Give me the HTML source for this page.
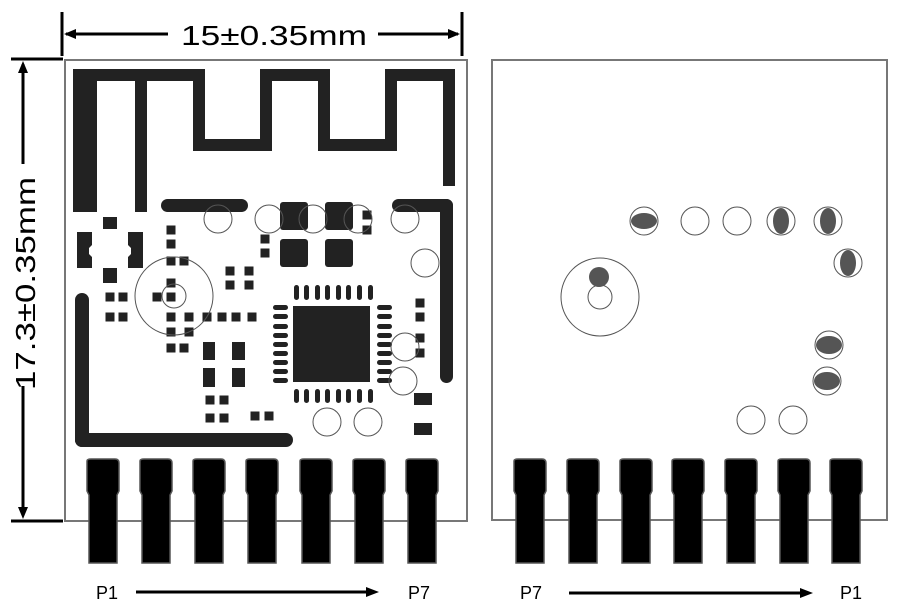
<!DOCTYPE html>
<html><head><meta charset="utf-8"><style>
html,body{margin:0;padding:0;background:#fff;width:905px;height:616px;overflow:hidden}
svg{display:block}
text{font-family:"Liberation Sans",sans-serif;fill:#000}
</style></head><body>
<svg width="905" height="616" viewBox="0 0 905 616" xmlns="http://www.w3.org/2000/svg">
<defs>
<g id="pin">
<path d="M-16,0 Q-16,-2 -12,-2 L12,-2 Q16,-2 16,2 L16,30 L14,34 L14,102 L-14,102 L-14,34 L-16,30 Z" fill="#000" stroke="#555" stroke-width="1.5"/>
</g>
<g id="sq"><rect x="-4.5" y="-4.5" width="9" height="9" fill="#222"/></g>
<g id="ci"><circle r="14" fill="none" stroke="#555" stroke-width="1"/></g>
</defs>

<!-- dimension top -->
<line x1="62" y1="12" x2="62" y2="56" stroke="#000" stroke-width="3"/>
<line x1="462" y1="12" x2="462" y2="56" stroke="#000" stroke-width="3"/>
<line x1="66" y1="34" x2="168" y2="34" stroke="#000" stroke-width="3"/>
<polygon points="64,34 76,29 76,39" fill="#000"/>
<line x1="378" y1="34" x2="458" y2="34" stroke="#000" stroke-width="3"/>
<polygon points="460,34 448,29 448,39" fill="#000"/>
<text x="181" y="45" font-size="28" textLength="186" lengthAdjust="spacingAndGlyphs">15±0.35mm</text>

<!-- dimension left -->
<line x1="11" y1="59" x2="63" y2="59" stroke="#000" stroke-width="3"/>
<line x1="11" y1="521" x2="63" y2="521" stroke="#000" stroke-width="3"/>
<line x1="23" y1="64" x2="23" y2="164" stroke="#000" stroke-width="3"/>
<polygon points="23,61 18,73 28,73" fill="#000"/>
<line x1="23" y1="386" x2="23" y2="515" stroke="#000" stroke-width="3"/>
<polygon points="23,519 18,507 28,507" fill="#000"/>
<text transform="translate(35,390) rotate(-90)" font-size="28" textLength="213" lengthAdjust="spacingAndGlyphs">17.3±0.35mm</text>

<!-- left board -->
<rect x="65" y="60" width="402" height="461" fill="#fff" stroke="#777" stroke-width="2"/>
<g fill="#222">
<rect x="73" y="69" width="24" height="143"/>
<rect x="73" y="69" width="132" height="12"/>
<rect x="135" y="69" width="12" height="143"/>
<rect x="193" y="69" width="12" height="82"/>
<rect x="193" y="139" width="79" height="12"/>
<rect x="260" y="69" width="12" height="82"/>
<rect x="260" y="69" width="70" height="12"/>
<rect x="318" y="69" width="12" height="82"/>
<rect x="318" y="139" width="79" height="12"/>
<rect x="385" y="69" width="12" height="82"/>
<rect x="385" y="69" width="70" height="12"/>
<rect x="443" y="69" width="12" height="117"/>
<rect x="161" y="199" width="87" height="13" rx="6.5"/>
<rect x="392" y="199" width="61" height="13" rx="6.5"/>
<rect x="440" y="199" width="13" height="184" rx="6.5"/>
<rect x="75" y="293" width="14" height="154" rx="7"/>
<rect x="75" y="433" width="218" height="14" rx="7"/>
<rect x="103" y="217" width="14" height="12"/>
<rect x="103" y="268" width="14" height="15"/>
<path d="M77,232 H92 V245 L89,248 V254 L92,257 V268 H77 Z"/>
<path d="M128,232 H143 V268 H128 V257 L131,254 V248 L128,245 Z"/>
<rect x="280" y="202" width="28" height="28" rx="3"/>
<rect x="325" y="202" width="28" height="28" rx="3"/>
<rect x="280" y="239" width="28" height="28" rx="3"/>
<rect x="325" y="239" width="28" height="28" rx="3"/>
<rect x="203" y="342" width="12" height="18"/>
<rect x="232" y="342" width="13" height="18"/>
<rect x="203" y="368" width="12" height="19"/>
<rect x="232" y="368" width="13" height="19"/>
<rect x="414" y="393" width="18" height="12"/>
<rect x="414" y="423" width="18" height="12"/>
<rect x="293" y="306" width="77" height="76"/>
<g>
<rect x="294" y="285" width="5" height="15" rx="2.5"/><rect x="304" y="285" width="5" height="15" rx="2.5"/><rect x="315" y="285" width="5" height="15" rx="2.5"/><rect x="325" y="285" width="5" height="15" rx="2.5"/><rect x="336" y="285" width="5" height="15" rx="2.5"/><rect x="346" y="285" width="5" height="15" rx="2.5"/><rect x="357" y="285" width="5" height="15" rx="2.5"/><rect x="368" y="285" width="5" height="15" rx="2.5"/>
<rect x="294" y="389" width="5" height="14" rx="2.5"/><rect x="304" y="389" width="5" height="14" rx="2.5"/><rect x="315" y="389" width="5" height="14" rx="2.5"/><rect x="325" y="389" width="5" height="14" rx="2.5"/><rect x="336" y="389" width="5" height="14" rx="2.5"/><rect x="346" y="389" width="5" height="14" rx="2.5"/><rect x="357" y="389" width="5" height="14" rx="2.5"/><rect x="368" y="389" width="5" height="14" rx="2.5"/>
<rect x="273" y="305" width="15" height="5" rx="2.5"/><rect x="273" y="314" width="15" height="5" rx="2.5"/><rect x="273" y="324" width="15" height="5" rx="2.5"/><rect x="273" y="333" width="15" height="5" rx="2.5"/><rect x="273" y="342" width="15" height="5" rx="2.5"/><rect x="273" y="351" width="15" height="5" rx="2.5"/><rect x="273" y="360" width="15" height="5" rx="2.5"/><rect x="273" y="369" width="15" height="5" rx="2.5"/><rect x="273" y="378" width="15" height="5" rx="2.5"/>
<rect x="377" y="305" width="15" height="5" rx="2.5"/><rect x="377" y="314" width="15" height="5" rx="2.5"/><rect x="377" y="324" width="15" height="5" rx="2.5"/><rect x="377" y="333" width="15" height="5" rx="2.5"/><rect x="377" y="342" width="15" height="5" rx="2.5"/><rect x="377" y="351" width="15" height="5" rx="2.5"/><rect x="377" y="360" width="15" height="5" rx="2.5"/><rect x="377" y="369" width="15" height="5" rx="2.5"/><rect x="377" y="378" width="15" height="5" rx="2.5"/>
</g>
</g>
<g>
<use href="#sq" x="171" y="230"/><use href="#sq" x="171" y="244"/><use href="#sq" x="171" y="261"/><use href="#sq" x="184" y="261"/>
<use href="#sq" x="230" y="271"/><use href="#sq" x="249" y="271"/><use href="#sq" x="230" y="285"/><use href="#sq" x="249" y="285"/>
<use href="#sq" x="157" y="297"/><use href="#sq" x="171" y="283"/><use href="#sq" x="171" y="297"/>
<use href="#sq" x="110" y="297"/><use href="#sq" x="123" y="297"/><use href="#sq" x="110" y="317"/><use href="#sq" x="123" y="317"/>
<use href="#sq" x="171" y="317"/><use href="#sq" x="189" y="317"/><use href="#sq" x="207" y="317"/><use href="#sq" x="222" y="317"/><use href="#sq" x="236" y="317"/><use href="#sq" x="252" y="317"/>
<use href="#sq" x="171" y="332"/><use href="#sq" x="189" y="332"/><use href="#sq" x="171" y="348"/><use href="#sq" x="184" y="348"/>
<use href="#sq" x="265" y="239"/><use href="#sq" x="265" y="253"/><use href="#sq" x="367" y="215"/><use href="#sq" x="367" y="230"/>
<use href="#sq" x="420" y="303"/><use href="#sq" x="420" y="317"/><use href="#sq" x="420" y="338"/><use href="#sq" x="420" y="353"/>
<use href="#sq" x="210" y="400"/><use href="#sq" x="224" y="400"/><use href="#sq" x="210" y="418"/><use href="#sq" x="224" y="418"/><use href="#sq" x="255" y="416"/><use href="#sq" x="269" y="416"/>
</g>
<g>
<use href="#ci" x="218" y="219"/><use href="#ci" x="269" y="219"/><use href="#ci" x="313" y="219"/><use href="#ci" x="358" y="219"/><use href="#ci" x="405" y="219"/><use href="#ci" x="425" y="263"/><use href="#ci" x="405" y="347"/><use href="#ci" x="403" y="381"/><use href="#ci" x="327" y="422"/><use href="#ci" x="368" y="422"/>
<circle cx="174" cy="296" r="39" fill="none" stroke="#555" stroke-width="1"/>
<circle cx="174" cy="296" r="12" fill="none" stroke="#555" stroke-width="1"/>
</g>
<g>
<use href="#pin" x="103" y="461"/><use href="#pin" x="156" y="461"/><use href="#pin" x="209" y="461"/><use href="#pin" x="262" y="461"/><use href="#pin" x="316" y="461"/><use href="#pin" x="369" y="461"/><use href="#pin" x="422" y="461"/>
</g>

<!-- right board -->
<rect x="492" y="60" width="395" height="460" fill="#fff" stroke="#777" stroke-width="2"/>
<g>
<use href="#ci" x="644" y="221"/><use href="#ci" x="695" y="221"/><use href="#ci" x="737" y="221"/><use href="#ci" x="781" y="221"/><use href="#ci" x="828" y="221"/><use href="#ci" x="848" y="263"/><use href="#ci" x="829" y="345"/><use href="#ci" x="827" y="381"/><use href="#ci" x="751" y="420"/><use href="#ci" x="793" y="420"/>
<circle cx="600" cy="297" r="39" fill="none" stroke="#555" stroke-width="1"/>
<circle cx="600" cy="297" r="12" fill="none" stroke="#555" stroke-width="1"/>
</g>
<g fill="#555">
<ellipse cx="644" cy="221" rx="13" ry="8"/>
<ellipse cx="781" cy="221" rx="8" ry="13"/>
<ellipse cx="828" cy="221" rx="8" ry="13"/>
<ellipse cx="848" cy="263" rx="8" ry="13"/>
<ellipse cx="829" cy="345" rx="13" ry="9"/>
<ellipse cx="827" cy="381" rx="13" ry="9"/>
<circle cx="599" cy="277" r="10"/>
</g>
<g>
<use href="#pin" x="530" y="461"/><use href="#pin" x="583" y="461"/><use href="#pin" x="636" y="461"/><use href="#pin" x="688" y="461"/><use href="#pin" x="741" y="461"/><use href="#pin" x="794" y="461"/><use href="#pin" x="846" y="461"/>
</g>

<!-- labels -->
<text x="96" y="599" font-size="18">P1</text>
<line x1="136" y1="592" x2="368" y2="592" stroke="#000" stroke-width="3"/>
<polygon points="379,592 366,587 366,597" fill="#000"/>
<text x="408" y="599" font-size="18">P7</text>
<text x="520" y="599" font-size="18">P7</text>
<line x1="569" y1="593" x2="803" y2="593" stroke="#000" stroke-width="3"/>
<polygon points="813,593 800,588 800,598" fill="#000"/>
<text x="840" y="599" font-size="18">P1</text>
</svg>
</body></html>
